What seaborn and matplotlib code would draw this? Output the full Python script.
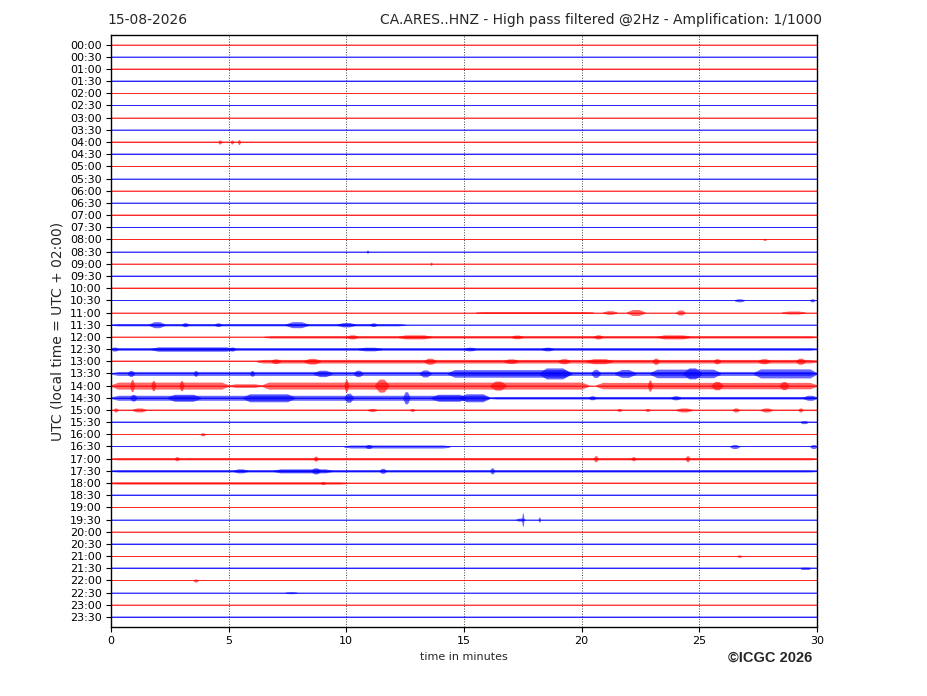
import numpy as np
import pandas as pd
import matplotlib
matplotlib.use("Agg")
import matplotlib.pyplot as plt
import seaborn as sns

# Half-hour rows of the helicorder (top to bottom)
row_labels = [
    "00:00", "00:30", "01:00", "01:30", "02:00", "02:30", "03:00", "03:30",
    "04:00", "04:30", "05:00", "05:30", "06:00", "06:30", "07:00", "07:30",
    "08:00", "08:30", "09:00", "09:30", "10:00", "10:30", "11:00", "11:30",
    "12:00", "12:30", "13:00", "13:30", "14:00", "14:30", "15:00", "15:30",
    "16:00", "16:30", "17:00", "17:30", "18:00", "18:30", "19:00", "19:30",
    "20:00", "20:30", "21:00", "21:30", "22:00", "22:30", "23:00", "23:30",
]

# background noise half-amplitude of each row (pixels)
row_noise = [
    0.6, 0.7, 0.8, 1.0, 0.6, 0.6, 0.6, 0.6,
    0.8, 0.8, 0.6, 0.6, 0.6, 0.6, 0.6, 0.6,
    0.6, 0.6, 0.6, 0.6, 1.0, 0.7, 0.6, 0.6,
    0.6, 0.7, 0.9, 0.8, 0.8, 0.8, 0.6, 0.8,
    0.8, 0.7, 0.7, 0.7, 0.7, 0.8, 0.6, 0.6,
    0.6, 0.6, 0.6, 1.0, 0.7, 0.6, 0.6, 0.7,
]

# bursts of signal: row, start minute, end minute, half-amplitude (pixels)
burst_row = [
    8, 8, 8, 16, 17, 18, 21, 21,
    22, 22, 22, 22, 22,
    23, 23, 23, 23, 23, 23, 23,
    24, 24, 24, 24, 24, 24,
    25, 25, 25, 25, 25, 25, 25,
    26, 26, 26, 26, 26, 26, 26, 26, 26, 26, 26,
    27, 27, 27, 27, 27, 27, 27, 27, 27, 27, 27, 27, 27, 27,
    28, 28, 28, 28, 28, 28, 28, 28, 28, 28, 28, 28, 28,
    29, 29, 29, 29, 29, 29, 29, 29, 29, 29, 29, 29,
    30, 30, 30, 30, 30, 30, 30, 30, 30, 30,
    31, 32, 33, 33, 33, 33,
    34, 34, 34, 34, 34, 34,
    35, 35, 35, 35, 35, 35,
    36, 36, 39, 39, 39, 42, 43, 44, 45,
]
burst_start = [
    4.55, 5.08, 5.38, 27.7, 10.85, 13.55, 26.5, 29.7,
    15.5, 20.9, 21.9, 24.0, 28.5,
    0.0, 1.6, 3.0, 4.4, 7.4, 9.6, 11.0,
    6.5, 10.0, 12.2, 17.0, 20.5, 23.2,
    0.0, 0.0, 1.7, 5.0, 10.5, 15.0, 18.3,
    6.2, 6.8, 8.2, 13.3, 16.7, 19.0, 20.2, 23.0, 25.6, 27.5, 29.1,
    0.0, 0.7, 3.5, 5.9, 8.6, 10.3, 13.1, 14.3, 18.2, 20.4, 21.4, 22.9, 24.3, 27.3,
    0.0, 5.0, 6.4, 20.6, 0.8, 1.7, 2.9, 9.9, 11.2, 16.1, 22.8, 25.5, 28.4,
    0.0, 16.1, 0.8, 2.4, 5.6, 9.9, 12.4, 13.6, 14.8, 20.3, 23.8, 29.4,
    0.1, 0.9, 10.9, 12.7, 21.5, 22.7, 24.0, 26.4, 27.6, 29.2,
    29.3, 3.8, 9.9, 10.8, 26.3, 29.7,
    0.0, 2.7, 8.6, 20.5, 22.1, 24.4,
    0.0, 5.2, 6.9, 8.5, 11.4, 16.1,
    0.0, 8.9, 17.2, 17.45, 18.15, 26.6, 29.3, 3.5, 7.4,
]
burst_end = [
    4.7, 5.2, 5.5, 27.85, 10.95, 13.65, 26.9, 29.9,
    20.5, 21.5, 22.7, 24.4, 29.5,
    12.5, 2.3, 3.3, 4.7, 8.4, 10.4, 11.3,
    30.0, 10.5, 13.6, 17.5, 20.9, 24.6,
    30.0, 0.3, 5.2, 5.3, 11.5, 15.5, 18.8,
    30.0, 7.2, 8.9, 13.8, 17.3, 19.5, 21.3, 23.3, 25.9, 28.0, 29.5,
    30.0, 1.0, 3.7, 6.1, 9.4, 10.7, 13.6, 19.6, 19.5, 20.8, 22.3, 25.9, 25.1, 30.0,
    5.0, 6.4, 20.3, 30.0, 1.0, 1.9, 3.1, 10.1, 11.8, 16.8, 23.0, 26.0, 28.8,
    16.1, 30.0, 1.1, 3.8, 7.8, 10.3, 12.7, 15.1, 16.1, 20.6, 24.2, 30.0,
    0.3, 1.5, 11.3, 12.9, 21.7, 22.9, 24.7, 26.7, 28.1, 29.4,
    29.6, 4.0, 14.4, 11.1, 26.7, 30.0,
    30.0, 2.9, 8.8, 20.7, 22.3, 24.6,
    30.0, 5.8, 9.4, 8.9, 11.7, 16.3,
    10.0, 9.1, 17.6, 17.55, 18.25, 26.8, 29.7, 3.7, 7.9,
]
burst_amp = [
    2.0, 2.0, 2.5, 1.0, 1.5, 1.5, 1.5, 1.5,
    1.0, 1.8, 3.0, 2.5, 1.5,
    1.2, 3.0, 2.0, 1.8, 3.0, 2.2, 1.8,
    1.2, 2.0, 2.0, 1.8, 2.0, 2.0,
    1.3, 2.0, 2.2, 2.0, 1.8, 1.8, 1.8,
    1.8, 2.3, 2.8, 3.0, 2.3, 2.5, 2.5, 3.0, 2.5, 2.5, 3.0,
    2.0, 3.0, 2.8, 2.8, 3.2, 3.2, 3.5, 3.8, 5.5, 4.0, 4.0, 4.3, 5.5, 4.5,
    3.5, 1.8, 3.5, 3.2, 6.0, 5.0, 5.0, 6.0, 6.5, 4.5, 5.5, 4.2, 4.0,
    2.5, 1.3, 3.3, 3.5, 4.0, 4.5, 6.0, 3.5, 4.0, 2.0, 2.0, 2.5,
    2.0, 2.0, 1.5, 1.5, 1.5, 1.5, 2.0, 2.0, 2.0, 2.0,
    1.5, 1.5, 1.5, 2.0, 2.0, 2.0,
    1.2, 2.0, 2.5, 3.0, 2.0, 3.0,
    1.2, 2.0, 2.0, 3.0, 2.5, 3.0,
    1.1, 1.5, 1.5, 6.5, 2.5, 1.2, 1.2, 1.5, 1.0,
]

x_ticks = [0, 5, 10, 15, 20, 25, 30]

ROW_PX = 12.18  # pixel height of one row
trace_colors = ["#ff0000", "#0000ff"]

sns.set_theme(style="ticks", rc={"axes.edgecolor": "black", "xtick.color": "black",
                                 "ytick.color": "black", "axes.linewidth": 1.0})
plt.rcParams["font.family"] = ["DejaVu Sans"]

fig = plt.figure(figsize=(9.27, 6.96), dpi=100)
ax = fig.add_axes([0.1197, 0.0991, 0.7616, 0.8506])

n_rows = len(row_labels)
rows = np.arange(n_rows)

# centre line of every trace
base = pd.DataFrame({
    "minute": np.tile([0.0, 30.0], n_rows),
    "row": np.repeat(rows, 2),
    "label": np.repeat(row_labels, 2),
})
palette = {lab: trace_colors[i % 2] for i, lab in enumerate(row_labels)}
sns.lineplot(data=base, x="minute", y="row", hue="label", units="label",
             estimator=None, sort=False, palette=palette, legend=False,
             lw=0.6, alpha=0.9, ax=ax)

# background noise bands
for i in rows:
    n = row_noise[i] / ROW_PX
    ax.fill_between([0, 30], i - n, i + n, color=trace_colors[i % 2],
                    alpha=0.35, lw=0)

# bursts, drawn as spindle-shaped envelopes
for r, t0, t1, a in zip(burst_row, burst_start, burst_end, burst_amp):
    ramp = min(0.3, (t1 - t0) / 3)
    xs = [t0, t0 + ramp, t1 - ramp, t1]
    amp = np.array([row_noise[r], a, a, row_noise[r]]) / ROW_PX
    ax.fill_between(xs, r - amp, r + amp, color=trace_colors[r % 2],
                    alpha=0.6, lw=0)

ax.set_xlim(0, 30)
ax.set_ylim(n_rows - 1 + 0.82, -0.78)
ax.set_xticks(x_ticks)
ax.set_yticks(rows)
ax.set_yticklabels(row_labels)
ax.tick_params(axis="both", labelsize=8, length=3.5, width=0.8, pad=3)
ax.xaxis.grid(True, linestyle=":", color="#444444", lw=0.7)
ax.yaxis.grid(False)
ax.set_xlabel("time in minutes", fontsize=8)
ax.set_ylabel("UTC (local time = UTC + 02:00)", fontsize=10)

fig.text(0.1154, 0.971, "15-08-2026", fontsize=10, ha="left", va="center")
fig.text(0.8867, 0.971, "CA.ARES..HNZ - High pass filtered @2Hz - Amplification: 1/1000",
         fontsize=10, ha="right", va="center")
fig.text(0.8306, 0.0546, "\u00a9ICGC 2026", fontsize=10.5, fontweight="bold",
         family="Liberation Sans", ha="center", va="center")

fig.savefig("out.png", dpi=100)
